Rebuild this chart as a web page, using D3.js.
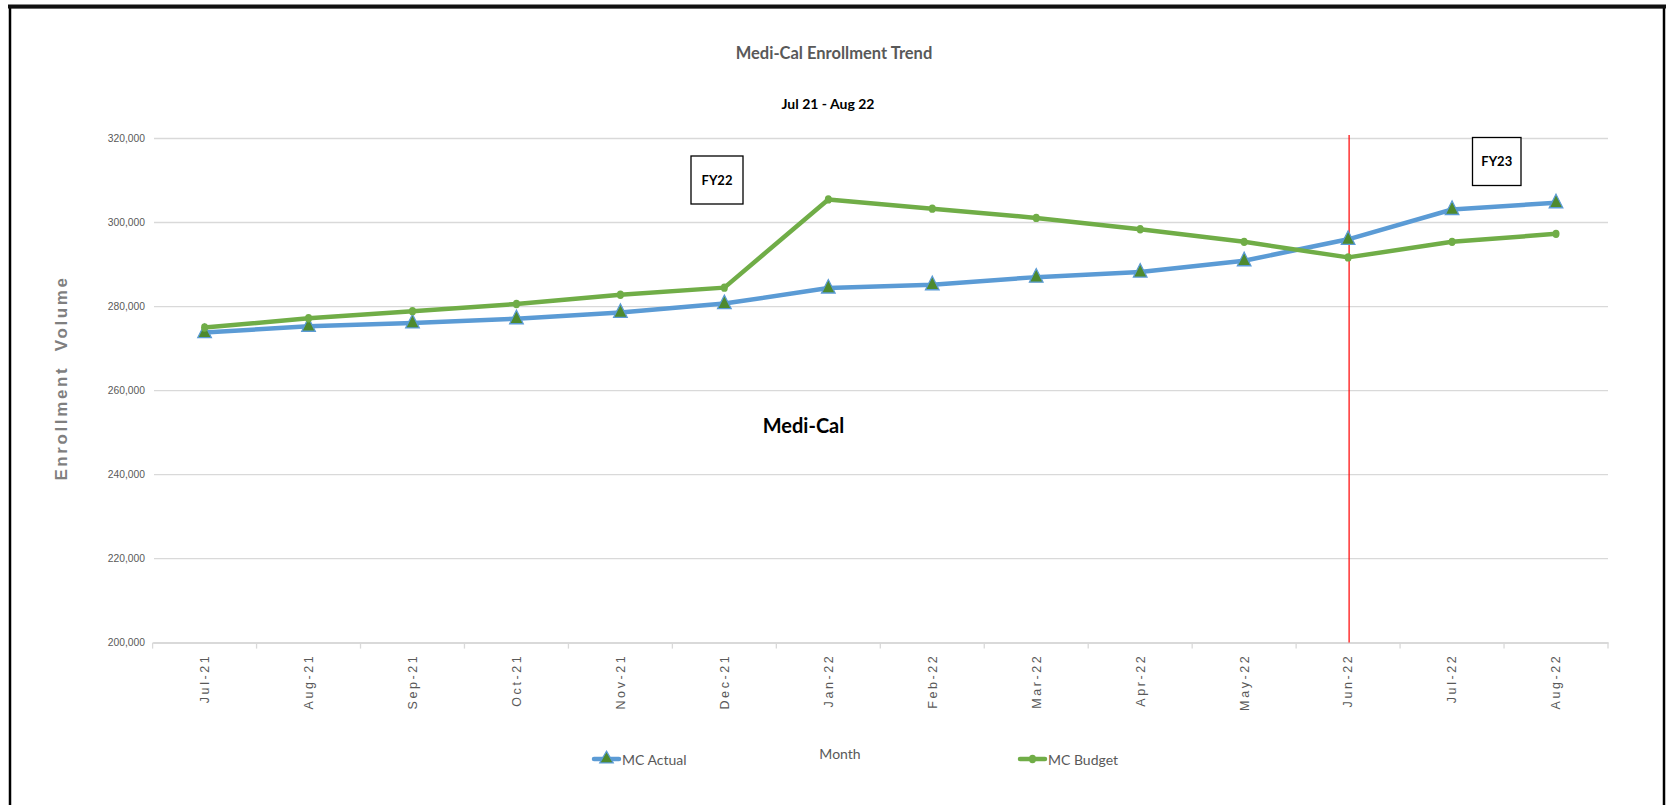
<!DOCTYPE html>
<html>
<head>
<meta charset="utf-8">
<script src="https://cdn.jsdelivr.net/npm/d3@7"></script>
<style>
  html, body { margin: 0; padding: 0; background: #ffffff; }
  svg { display: block; }
</style>
</head>
<body>
<svg id="chart" width="1671" height="805"></svg>
<script>
// Monthly Medi-Cal enrollment, actual vs budget
const months = ["Jul-21", "Aug-21", "Sep-21", "Oct-21", "Nov-21", "Dec-21", "Jan-22",
                "Feb-22", "Mar-22", "Apr-22", "May-22", "Jun-22", "Jul-22", "Aug-22"];
const mcActual = [273800, 275300, 276100, 277100, 278600, 280700, 284400,
                  285200, 287000, 288200, 290900, 296000, 303100, 304700];
const mcBudget = [275000, 277200, 278900, 280600, 282800, 284500, 305500,
                  303300, 301100, 298400, 295400, 291700, 295400, 297300];
const yTicks = [200000, 220000, 240000, 260000, 280000, 300000, 320000];
const fiscalBreak = "Jun-22";

const svg = d3.select("#chart");
const W = 1671, H = 805;

svg.append("rect").attr("width", W).attr("height", H).attr("fill", "#ffffff");

// outer frame
svg.append("rect")
  .attr("x", 10).attr("y", 7).attr("width", 1654).attr("height", 830)
  .attr("fill", "none").attr("stroke", "#000").attr("stroke-width", 2.5);
svg.append("line")
  .attr("x1", 8).attr("x2", 1666).attr("y1", 6.5).attr("y2", 6.5)
  .attr("stroke", "#111").attr("stroke-width", 4);

const x = d3.scaleBand().domain(months).range([152.6, 1608]);
const y = d3.scaleLinear().domain([200000, 320000]).range([642.6, 138.5]);
const cx = m => x(m) + x.bandwidth() / 2;

// horizontal gridlines + y labels
const yAxis = d3.axisLeft(y).tickValues(yTicks).tickFormat(d3.format(",")).tickSize(0).tickPadding(9);
const yg = svg.append("g").attr("transform", "translate(154,0)").call(yAxis);
yg.select(".domain").remove();
yg.selectAll("text")
  .attr("font-family", "Liberation Sans, Arial, sans-serif")
  .attr("font-size", 10.3).attr("fill", "#595959");

svg.append("g").selectAll("line").data(yTicks.filter(v => v !== 200000)).join("line")
  .attr("x1", 154).attr("x2", 1608)
  .attr("y1", d => y(d)).attr("y2", d => y(d))
  .attr("stroke", "#d9d9d9").attr("stroke-width", 1.3);

// category axis
const xAxis = d3.axisBottom(x).tickSize(0).tickPadding(0);
const xg = svg.append("g").attr("transform", `translate(0,${y(200000)})`).call(xAxis);
xg.select(".domain").attr("stroke", "#d9d9d9").attr("stroke-width", 2);
xg.selectAll("text")
  .attr("font-family", "Liberation Sans, Arial, sans-serif")
  .attr("font-size", 12.5).attr("fill", "#595959")
  .attr("letter-spacing", "2.6px")
  .attr("text-anchor", "end")
  .attr("dy", "0.35em")
  .attr("transform", "translate(0,11) rotate(-90)");
// boundary tick marks
const bounds = months.map(m => x(m)).concat([x.range()[1]]);
svg.append("g").selectAll("line").data(bounds).join("line")
  .attr("x1", d => d).attr("x2", d => d)
  .attr("y1", y(200000)).attr("y2", y(200000) + 6)
  .attr("stroke", "#d9d9d9").attr("stroke-width", 1.3);

// fiscal year divider
svg.append("line")
  .attr("x1", cx(fiscalBreak) + 1).attr("x2", cx(fiscalBreak) + 1)
  .attr("y1", 135).attr("y2", y(200000))
  .attr("stroke", "#ff0000").attr("stroke-width", 1.2);

// series lines
const line = vals => d3.line().x((d, i) => cx(months[i])).y(d => y(d))(vals);
svg.append("path").attr("d", line(mcActual))
  .attr("fill", "none").attr("stroke", "#5b9bd5").attr("stroke-width", 4.5)
  .attr("stroke-linejoin", "round").attr("stroke-linecap", "round");
svg.append("path").attr("d", line(mcBudget))
  .attr("fill", "none").attr("stroke", "#70ad47").attr("stroke-width", 4.5)
  .attr("stroke-linejoin", "round").attr("stroke-linecap", "round");

// markers
const tri = d3.symbol().type(d3.symbolTriangle).size(80);
svg.append("g").selectAll("path").data(mcActual).join("path")
  .attr("d", tri)
  .attr("transform", (d, i) => `translate(${cx(months[i])},${y(d) + 0.5}) scale(1,1.15)`)
  .attr("fill", "#4e8a2e").attr("stroke", "#5b9bd5").attr("stroke-width", 1.2);
svg.append("g").selectAll("ellipse").data(mcBudget).join("ellipse")
  .attr("cx", (d, i) => cx(months[i])).attr("cy", d => y(d))
  .attr("rx", 3.5).attr("ry", 4.2)
  .attr("fill", "#70ad47");

// titles
const font = "Lato, 'Open Sans', sans-serif";
svg.append("text").attr("x", 834).attr("y", 59).attr("text-anchor", "middle")
  .attr("font-family", font).attr("font-weight", 700).attr("font-size", 16.5)
  .attr("fill", "#595959").text("Medi-Cal Enrollment Trend");
svg.append("text").attr("x", 828).attr("y", 108.5).attr("text-anchor", "middle")
  .attr("font-family", font).attr("font-weight", 700).attr("font-size", 14)
  .attr("fill", "#000").text("Jul 21 - Aug 22");
svg.append("text").attr("x", 803.5).attr("y", 433).attr("text-anchor", "middle")
  .attr("font-family", font).attr("font-weight", 700).attr("font-size", 20)
  .attr("fill", "#000").text("Medi-Cal");

// fiscal year boxes
function fyBox(x0, y0, w, h, label) {
  svg.append("rect").attr("x", x0).attr("y", y0).attr("width", w).attr("height", h)
    .attr("fill", "#fff").attr("stroke", "#000").attr("stroke-width", 1.3);
  svg.append("text").attr("x", x0 + w / 2).attr("y", y0 + h / 2 + 4.5).attr("text-anchor", "middle")
    .attr("font-family", font).attr("font-weight", 700).attr("font-size", 13)
    .attr("fill", "#000").text(label);
}
fyBox(691, 156, 52, 48, "FY22");
fyBox(1472.5, 137.5, 48.5, 48, "FY23");

// axis titles
svg.append("text")
  .attr("transform", "translate(67,378) rotate(-90)")
  .attr("text-anchor", "middle")
  .attr("font-family", "Liberation Sans, Arial, sans-serif")
  .attr("font-weight", 700).attr("font-size", 17).attr("letter-spacing", "2.6px")
  .attr("fill", "#7f7f7f").attr("xml:space", "preserve").text("Enrollment  Volume");
svg.append("text").attr("x", 840).attr("y", 758.5).attr("text-anchor", "middle")
  .attr("font-family", font).attr("font-size", 14).attr("fill", "#595959").text("Month");

// legend
function legendItem(x0, yy, color, marker, label) {
  svg.append("line").attr("x1", x0).attr("x2", x0 + 25).attr("y1", yy).attr("y2", yy)
    .attr("stroke", color).attr("stroke-width", 4.5).attr("stroke-linecap", "round");
  if (marker === "tri") {
    svg.append("path").attr("d", tri).attr("transform", `translate(${x0 + 12.5},${yy})`)
      .attr("fill", "#4e8a2e").attr("stroke", "#5b9bd5").attr("stroke-width", 1.2);
  } else {
    svg.append("ellipse").attr("cx", x0 + 12.5).attr("cy", yy).attr("rx", 3.5).attr("ry", 4.2)
      .attr("fill", "#70ad47");
  }
  svg.append("text").attr("x", x0 + 28).attr("y", yy + 5.5)
    .attr("font-family", font).attr("font-size", 14).attr("fill", "#595959").text(label);
}
legendItem(594, 759, "#5b9bd5", "tri", "MC Actual");
legendItem(1020, 759, "#70ad47", "dot", "MC Budget");
</script>
</body>
</html>
